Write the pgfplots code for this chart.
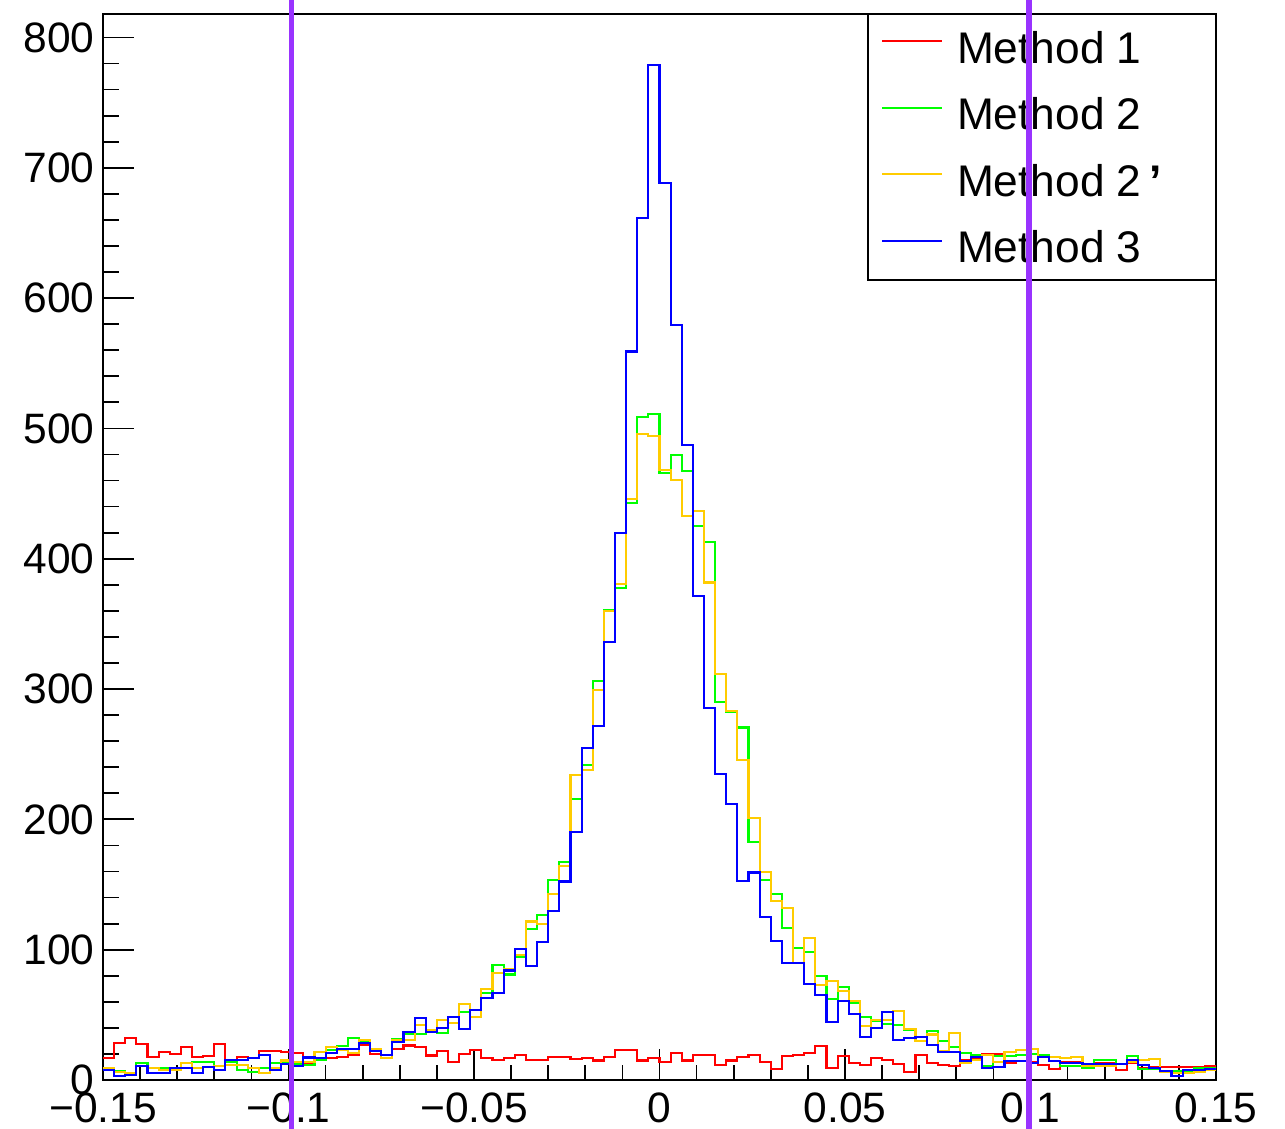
\documentclass[border=0pt]{standalone}
\usepackage{fontspec}
\setmainfont{Liberation Sans}
\usepackage{pgfplots}
\usepackage{pgfplotstable}
\pgfplotsset{compat=1.18}
\definecolor{rootred}{RGB}{255,0,0}
\definecolor{rootgreen}{RGB}{0,255,0}
\definecolor{rootyellow}{RGB}{255,204,0}
\definecolor{rootblue}{RGB}{0,0,255}
\definecolor{cutviolet}{RGB}{153,51,255}

\pgfplotstableread{
x red green yellow blue
-0.150 16.6 8.0 9.5 7.7
-0.147 28.1 7.0 6.4 3.0
-0.144 32.0 3.8 5.6 3.8
-0.141 27.4 13.3 10.7 10.7
-0.138 17.4 8.9 8.9 5.1
-0.135 21.3 8.9 7.7 5.1
-0.132 20.0 7.7 7.7 8.9
-0.129 25.6 8.9 13.3 8.9
-0.126 17.4 14.0 8.9 5.1
-0.123 18.4 14.0 10.2 10.2
-0.120 27.4 7.7 10.7 7.7
-0.117 14.9 14.0 11.5 15.4
-0.114 17.9 7.7 11.5 15.4
-0.111 16.6 6.4 8.9 16.6
-0.108 22.4 8.9 5.1 19.5
-0.105 22.3 12.8 9.0 8.0
-0.102 21.3 14.0 15.0 12.0
-0.099 21.0 12.0 14.0 11.0
-0.096 12.8 11.5 14.0 17.3
-0.093 16.6 15.4 21.3 16.6
-0.090 16.6 23.0 25.6 20.5
-0.087 17.9 26.4 23.0 23.5
-0.084 19.2 32.5 20.5 24.0
-0.081 26.9 29.4 30.7 28.6
-0.078 20.3 23.0 23.5 22.5
-0.075 19.0 19.5 16.6 19.5
-0.072 24.0 31.5 30.5 29.4
-0.069 26.5 35.5 30.5 37.0
-0.066 25.3 35.0 42.2 47.5
-0.063 18.8 37.0 38.4 37.0
-0.060 22.4 36.0 46.0 39.6
-0.057 13.7 43.5 44.0 48.6
-0.054 20.0 52.5 58.3 38.9
-0.051 23.0 48.6 48.6 53.7
-0.048 16.6 66.5 69.6 62.7
-0.045 15.4 88.3 82.4 66.5
-0.042 17.1 81.0 85.0 84.0
-0.039 19.2 94.7 96.0 100.6
-0.036 15.4 115.7 121.6 87.5
-0.033 15.4 126.7 120.0 106.2
-0.030 17.4 153.6 142.6 129.5
-0.027 17.4 167.6 164.5 152.3
-0.024 16.0 215.7 234.2 190.6
-0.021 17.0 241.8 238.0 254.6
-0.018 15.0 306.0 299.4 271.8
-0.015 18.0 361.0 360.0 336.0
-0.012 23.0 377.5 380.8 420.0
-0.009 23.0 443.0 446.0 559.0
-0.006 15.0 509.0 496.0 661.6
-0.003 17.0 511.0 494.4 779.0
0.000 14.0 466.0 467.8 688.0
0.003 21.0 479.8 460.7 579.6
0.006 15.0 467.0 433.0 487.5
0.009 19.0 424.8 436.9 371.6
0.012 19.0 413.0 381.8 285.4
0.015 11.5 290.4 311.7 234.7
0.018 15.0 282.8 283.5 211.7
0.021 18.0 270.5 245.7 152.8
0.024 19.0 182.5 200.9 159.2
0.027 14.0 153.6 159.5 125.4
0.030 8.5 142.6 137.4 106.7
0.033 18.4 116.5 132.3 89.6
0.036 19.2 101.0 90.0 89.6
0.039 20.5 98.5 108.8 73.5
0.042 26.1 79.8 72.9 65.3
0.045 9.0 61.9 76.3 44.8
0.048 18.4 71.6 68.0 60.8
0.051 13.3 58.9 60.5 50.8
0.054 11.8 48.6 41.6 32.8
0.057 16.8 45.5 46.0 39.7
0.060 15.4 43.0 46.0 52.3
0.063 12.2 42.2 53.1 30.7
0.066 6.4 38.4 39.3 32.4
0.069 19.2 30.0 29.7 32.8
0.072 12.8 37.9 34.9 26.9
0.075 11.8 30.1 22.4 21.2
0.078 10.7 25.6 36.3 21.8
0.081 15.4 21.0 13.0 14.8
0.084 16.6 19.0 15.4 17.9
0.087 19.6 10.5 19.2 9.0
0.090 19.6 18.4 14.1 10.0
0.093 12.8 18.4 21.8 14.3
0.096 14.6 19.2 23.0 14.6
0.099 14.1 19.7 23.5 12.8
0.102 11.5 19.2 17.4 17.4
0.105 8.2 14.9 17.4 14.9
0.108 14.1 10.7 16.6 13.3
0.111 14.1 10.7 17.4 13.3
0.114 10.7 9.5 10.7 12.0
0.117 13.3 15.4 10.7 12.3
0.120 13.3 15.4 10.7 12.5
0.123 7.7 12.0 12.3 12.0
0.126 13.3 18.4 14.0 15.4
0.129 9.0 8.2 15.4 11.5
0.132 10.2 8.2 16.1 9.0
0.135 10.2 7.0 6.4 7.0
0.138 10.2 7.0 5.6 3.1
0.141 10.2 7.0 5.6 7.5
0.144 10.2 9.0 6.4 7.7
0.147 10.7 9.0 8.0 8.5
0.150 10.7 9.0 8.0 8.5
}\histdata

\newcommand{\legtext}[1]{\makebox[2.59cm][l]{\rule[-0.1735cm]{0pt}{0.665cm}\raisebox{0.06cm}{#1}}}

\begin{document}
\begin{tikzpicture}
\begin{axis}[
  at={(0,0)}, anchor=south west,
  scale only axis, width=11.13cm, height=10.66cm,
  xmin=-0.15, xmax=0.15, ymin=0, ymax=818,
  axis line style={line width=0.7pt},
  xtick={-0.15,-0.1,-0.05,0,0.05,0.1,0.15},
  xticklabels={−0.15,−0.1,−0.05,0,0.05,0.1,0.15},
  ytick={0,100,200,300,400,500,600,700,800},
  yticklabels={0,100,200,300,400,500,600,700,800},
  minor x tick num=4, minor y tick num=4,
  xtick pos=bottom, ytick pos=left,
  tick align=inside,
  major tick length=0.31cm, minor tick length=0.155cm,
  tick style={black, line width=0.5pt},
  tick label style={font=\fontsize{12.1}{14}\selectfont},
  yticklabel style={xshift=0.04cm},
  scaled ticks=false,
  legend style={at={(1,1)}, anchor=north east, draw=black, line width=0.6pt,
    fill=white, inner sep=0pt, outer sep=0pt, row sep=0pt, column sep=0pt,
    nodes={inner sep=0pt, outer sep=0pt},
    font=\fontsize{12.6}{14}\selectfont, cells={anchor=west}},
  legend image code/.code={\path[draw=none, fill=none] (0cm,-0.3325cm) rectangle (0.89cm,0.3325cm);
    \draw[#1, line width=0.45pt] (0.14cm,0.06cm) -- (0.74cm,0.06cm);},
]
\addplot[const plot, rootred, line width=0.6pt] table[x=x, y=red] {\histdata};
\addlegendentry{\legtext{Method 1}}
\addplot[const plot, rootgreen, line width=0.6pt] table[x=x, y=green] {\histdata};
\addlegendentry{\legtext{Method 2}}
\addplot[const plot, rootyellow, line width=0.6pt] table[x=x, y=yellow] {\histdata};
\addlegendentry{\legtext{Method 2\,{\bfseries ’}}}
\addplot[const plot, rootblue, line width=0.6pt] table[x=x, y=blue] {\histdata};
\addlegendentry{\legtext{Method 3}}
\end{axis}
\begin{axis}[
  at={(0,0)}, anchor=south west,
  scale only axis, width=11.13cm, height=10.66cm,
  xmin=-0.15, xmax=0.15, ymin=0, ymax=818,
  hide axis, clip=false,
]
\addplot[cutviolet, line width=1.6pt] coordinates {(-0.0992,-40) (-0.0992,840)};
\addplot[cutviolet, line width=1.6pt] coordinates {(0.0996,-40) (0.0996,840)};
\end{axis}
\pgfresetboundingbox
\path[use as bounding box] (-1.03cm,-0.48cm) rectangle (11.82cm,10.80cm);
\end{tikzpicture}
\end{document}
